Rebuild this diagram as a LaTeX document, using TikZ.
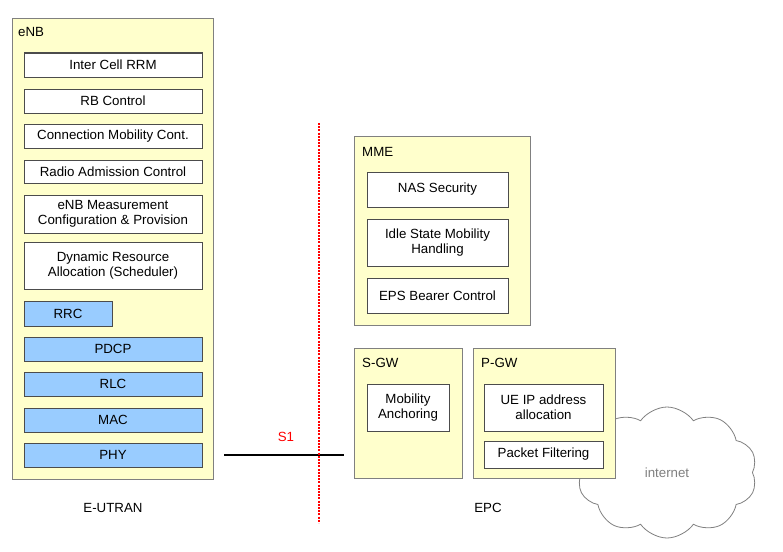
\documentclass[tikz,border=0pt]{standalone}
\usepackage{fontspec}
\setmainfont{Liberation Sans}
\usepackage{tikz}
\usetikzlibrary{calc,positioning,shapes.symbols}
\definecolor{boxyellow}{HTML}{FFFFCC}
\definecolor{layerblue}{HTML}{99CCFF}
\definecolor{edgegray}{HTML}{808080}

\tikzset{
	entity/.style={draw=edgegray,fill=boxyellow,line width=1pt,anchor=north west,inner sep=0pt},
	title/.style={anchor=base west,inner sep=0pt},
	func/.style={draw=black!70,fill=white,line width=1pt,align=center,minimum height=24pt,inner sep=0pt},
	layer/.style={func,fill=layerblue}
}

\begin{document}
\begin{tikzpicture}[x=1pt,y=-1pt,font=\fontsize{13.3}{15}\selectfont]
		\useasboundingbox (0,0) rectangle (783,551);
		% eNB
		\node (enb) [entity,minimum width=201pt,minimum height=461pt] at (12,18) {};
		\node (enbtitle) [title] at (18,37) {eNB};
		\node (rrm) [func,minimum width=178pt] at (113,65) {Inter Cell RRM};
		\node (rbc) [func,minimum width=178pt,below=11pt of rrm] {RB Control};
		\node (cmc) [func,minimum width=178pt,below=10pt of rbc] {Connection Mobility Cont.};
		\node (rac) [func,minimum width=178pt,minimum height=23pt,below=11pt of cmc] {Radio Admission Control};
		\node (meas) [func,minimum width=178pt,minimum height=38pt,below=11pt of rac] {eNB Measurement\\Configuration \& Provision};
		\node (dra) [func,minimum width=178pt,minimum height=47pt,below=8pt of meas] {Dynamic Resource\\Allocation (Scheduler)};
		\node (rrc) [layer,minimum width=88pt,minimum height=25pt,below=11pt of dra.south west,anchor=north west] {RRC};
		\node (pdcp) [layer,minimum width=178pt,below=10pt of rrc.south west,anchor=north west] {PDCP};
		\node (rlc) [layer,minimum width=178pt,below=10pt of pdcp] {RLC};
		\node (mac) [layer,minimum width=178pt,below=11pt of rlc] {MAC};
		\node (phy) [layer,minimum width=178pt,below=10pt of mac] {PHY};
		\node (eutran) at (113,508) {E-UTRAN};
		% MME
		\node (mme) [entity,minimum width=176pt,minimum height=189pt] at (354,136) {};
		\node (mmetitle) [title] at (362,156) {MME};
		\node (nas) [func,minimum width=141pt,minimum height=35pt] at (437.5,189.5) {NAS Security};
		\node (idle) [func,minimum width=141pt,minimum height=47pt,below=11pt of nas] {Idle State Mobility\\Handling};
		\node (eps) [func,minimum width=141pt,minimum height=35pt,below=11pt of idle] {EPS Bearer Control};
		% internet
		\node (inet) [cloud,draw=edgegray,fill=white,line width=0.8pt,cloud puffs=10,cloud puff arc=110,minimum width=180pt,minimum height=131pt,text=gray] at (667,472.5) {internet};
		% S-GW and P-GW
		\node (sgw) [entity,minimum width=108pt,minimum height=130pt] at (354,348) {};
		\node (sgwtitle) [title] at (362,367) {S-GW};
		\node (anchor) [func,minimum width=82pt,minimum height=47pt] at (408,407.5) {Mobility\\Anchoring};
		\node (pgw) [entity,minimum width=142pt,minimum height=130pt] at (473,348) {};
		\node (pgwtitle) [title] at (481,367) {P-GW};
		\node (ueip) [func,minimum width=119pt,minimum height=47pt] at (543.5,407.5) {UE IP address\\allocation};
		\node (pf) [func,minimum width=119pt,minimum height=27pt,below=9pt of ueip] {Packet Filtering};
		\node (epc) at (488,508) {EPC};
		% S1
		\coordinate (s1l) at (224,455);
		\coordinate (s1r) at (344,455);
		\draw[line width=1.5pt] (s1l) -- (s1r);
		\node (s1) [text=red] at (286,437) {S1};
		\coordinate (cuttop) at (319,123);
		\coordinate (cutbot) at (319,523);
		\draw[red,line width=1.5pt,dash pattern=on 2pt off 1.2pt] (cuttop) -- (cutbot);
	\end{tikzpicture}
\end{document}
